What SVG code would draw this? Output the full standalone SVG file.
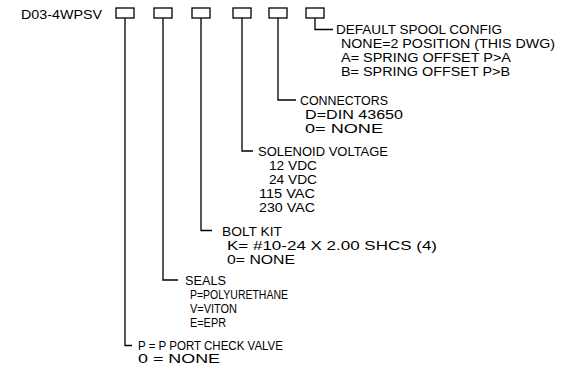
<svg xmlns="http://www.w3.org/2000/svg" width="561" height="366" viewBox="0 0 561 366">
<style>
text{font-family:"Liberation Sans",Arial,sans-serif;font-size:12.5px;fill:#000;}
.sm{font-size:12px;}
.box{fill:#fff;stroke:#000;stroke-width:1.3;}
.ln{fill:none;stroke:#000;stroke-width:1.3;}
</style>
<rect width="561" height="366" fill="#fff"/>
<text x="21" y="18.5" textLength="81" lengthAdjust="spacingAndGlyphs">D03-4WPSV</text>
<g id="connectors">
<path class="ln" d="M125 18V345.5H132"/>
<path class="ln" d="M163 18V280H178"/>
<path class="ln" d="M201 18V230.5H212"/>
<path class="ln" d="M242 18V151H253"/>
<path class="ln" d="M278 18V100H296"/>
<path class="ln" d="M315 18V29.5H333"/>
</g>
<g id="node1"><rect class="box" x="116" y="8" width="18" height="10"/>
<text class="sm" x="138" y="349.5" textLength="145" lengthAdjust="spacingAndGlyphs">P = P PORT CHECK VALVE</text>
<text class="sm" x="138" y="363" textLength="82" lengthAdjust="spacingAndGlyphs">0 = NONE</text></g>
<g id="node2"><rect class="box" x="154" y="8" width="18" height="10"/>
<text x="185" y="284.5" textLength="41" lengthAdjust="spacingAndGlyphs">SEALS</text>
<text x="190" y="298.5" textLength="98" lengthAdjust="spacingAndGlyphs">P=POLYURETHANE</text>
<text x="190" y="312.5" textLength="47" lengthAdjust="spacingAndGlyphs">V=VITON</text>
<text x="190" y="326.5" textLength="36" lengthAdjust="spacingAndGlyphs">E=EPR</text></g>
<g id="node3"><rect class="box" x="192" y="8" width="18" height="10"/>
<text x="222" y="235.5" textLength="60" lengthAdjust="spacingAndGlyphs">BOLT KIT</text>
<text x="227" y="249.5" textLength="210" lengthAdjust="spacingAndGlyphs">K= #10-24 X 2.00 SHCS (4)</text>
<text x="227" y="263.5" textLength="68" lengthAdjust="spacingAndGlyphs">0= NONE</text></g>
<g id="node4"><rect class="box" x="233" y="8" width="18" height="10"/>
<text x="258" y="156" textLength="130" lengthAdjust="spacingAndGlyphs">SOLENOID VOLTAGE</text>
<text x="269" y="170" textLength="48" lengthAdjust="spacingAndGlyphs">12 VDC</text>
<text x="269" y="184" textLength="48" lengthAdjust="spacingAndGlyphs">24 VDC</text>
<text x="259" y="198" textLength="56" lengthAdjust="spacingAndGlyphs">115 VAC</text>
<text x="259" y="212" textLength="56" lengthAdjust="spacingAndGlyphs">230 VAC</text></g>
<g id="node5"><rect class="box" x="269" y="8" width="18" height="10"/>
<text x="300" y="104.5" textLength="88" lengthAdjust="spacingAndGlyphs">CONNECTORS</text>
<text x="305" y="118.5" textLength="98" lengthAdjust="spacingAndGlyphs">D=DIN 43650</text>
<text x="305" y="132.5" textLength="78" lengthAdjust="spacingAndGlyphs">0= NONE</text></g>
<g id="node6"><rect class="box" x="306" y="8" width="18" height="10"/>
<text x="336" y="34" textLength="166" lengthAdjust="spacingAndGlyphs">DEFAULT SPOOL CONFIG</text>
<text x="341" y="48" textLength="214" lengthAdjust="spacingAndGlyphs">NONE=2 POSITION (THIS DWG)</text>
<text x="341" y="62" textLength="170" lengthAdjust="spacingAndGlyphs">A= SPRING OFFSET P&gt;A</text>
<text x="341" y="76" textLength="169" lengthAdjust="spacingAndGlyphs">B= SPRING OFFSET P&gt;B</text></g>
</svg>
